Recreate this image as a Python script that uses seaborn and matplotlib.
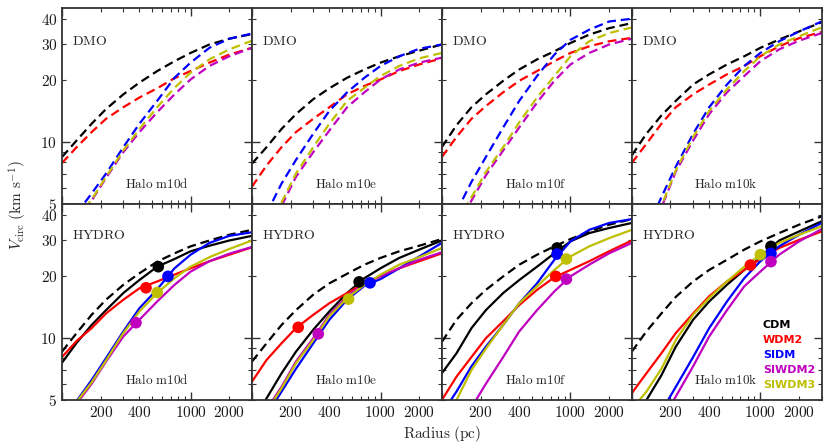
import numpy as np
import matplotlib
matplotlib.use('Agg')
import matplotlib.pyplot as plt
import matplotlib.ticker as mticker
from matplotlib.lines import Line2D
import seaborn as sns

nan = np.nan

radius = [100, 130, 170, 220, 300, 400, 550, 750, 1000, 1400, 2000, 3000]
models = ['CDM', 'WDM2', 'SIDM', 'SIWDM2', 'SIWDM3']
halos = ['m10d', 'm10e', 'm10f', 'm10k']

# ---- Halo m10d ----
m10d_dmo = {
    'CDM':    [8.47, 10.2, 12.3, 14.5, 17.1, 19.5, 22.2, 24.8, 27.2, 29.9, 31.9, 33.6],
    'WDM2':   [7.92, 9.46, 11.2, 13.0, 14.8, 16.5, 18.3, 20.5, 22.2, 24.4, 26.7, 28.8],
    'SIDM':   [nan, 4.5, 5.63, 7.03, 9.46, 12.3, 15.9, 20.6, 24.4, 28.8, 31.9, 33.8],
    'SIWDM2': [nan, 4.1, 5.2, 6.7, 8.95, 11.2, 14.0, 17.1, 20.2, 23.5, 26.2, 28.8],
    'SIWDM3': [nan, 4.2, 5.26, 6.78, 9.12, 11.6, 14.8, 18.4, 21.8, 25.3, 28.3, 31.2],
}
m10d_hydro_cdm_dmo = [8.6, 10.6, 13.0, 15.4, 18.2, 20.7, 23.6, 25.9, 28.0, 29.9, 31.9, 33.7]
m10d_hydro = {
    'CDM':    [7.6, 9.5, 11.6, 13.7, 16.6, 19.2, 22.3, 24.3, 26.5, 28.2, 29.9, 31.5],
    'WDM2':   [8.1, 9.7, 11.2, 13.2, 15.4, 17.5, 18.9, 20.4, 21.9, 23.7, 25.5, 27.7],
    'SIDM':   [nan, 4.95, 6.26, 8.0, 10.8, 14.0, 17.3, 21.9, 25.5, 29.1, 31.5, 32.8],
    'SIWDM2': [nan, 4.8, 6.0, 7.7, 10.2, 12.3, 15.1, 18.2, 21.1, 23.7, 25.8, 27.8],
    'SIWDM3': [nan, 4.9, 6.1, 7.8, 10.6, 13.5, 16.6, 19.6, 22.3, 24.8, 27.2, 29.9],
}
m10d_dot_r = [561, 450, 667, 376, 550]
m10d_dot_v = [22.3, 17.6, 20.0, 11.9, 16.7]

# ---- Halo m10e ----
m10e_dmo = {
    'CDM':    [7.86, 9.46, 11.6, 13.7, 16.2, 18.3, 20.6, 22.6, 24.4, 26.2, 27.9, 29.9],
    'WDM2':   [6.07, 7.71, 9.46, 11.2, 13.0, 14.8, 17.1, 18.8, 20.2, 22.2, 23.9, 25.6],
    'SIDM':   [nan, 4.5, 6.29, 8.2, 11.0, 14.2, 17.5, 20.6, 23.5, 26.2, 28.5, 29.9],
    'SIWDM2': [nan, 3.8, 4.9, 6.78, 8.95, 11.4, 14.8, 17.5, 20.2, 22.6, 24.4, 25.8],
    'SIWDM3': [nan, 3.9, 5.1, 7.03, 9.46, 12.3, 15.9, 18.4, 21.0, 23.5, 25.6, 27.2],
}
m10e_hydro_cdm_dmo = [7.69, 9.45, 11.6, 13.7, 16.3, 18.5, 20.6, 22.8, 24.6, 26.5, 28.2, 30.4]
m10e_hydro = {
    'CDM':    [3.9, 5.1, 6.75, 8.6, 11.0, 13.5, 16.6, 19.6, 21.9, 24.6, 27.0, 29.9],
    'WDM2':   [6.14, 7.84, 9.45, 11.2, 13.0, 14.8, 16.6, 18.5, 20.0, 21.9, 23.7, 25.9],
    'SIDM':   [nan, 4.2, 5.5, 7.1, 9.45, 12.3, 15.4, 18.0, 19.4, 21.9, 25.0, 29.1],
    'SIWDM2': [nan, 4.5, 5.8, 7.7, 10.0, 13.0, 16.0, 18.5, 20.1, 21.9, 24.1, 26.2],
    'SIWDM3': [nan, 4.4, 5.7, 7.55, 9.8, 12.8, 15.7, 18.2, 20.4, 22.8, 24.8, 27.5],
}
m10e_dot_r = [682, 229, 829, 328, 564]
m10e_dot_v = [18.8, 11.3, 18.6, 10.5, 15.5]

# ---- Halo m10f ----
m10f_dmo = {
    'CDM':    [9.46, 12.1, 14.8, 17.1, 19.9, 22.6, 25.3, 27.7, 30.4, 33.4, 35.9, 38.0],
    'WDM2':   [8.47, 10.6, 13.0, 15.0, 17.5, 19.9, 22.2, 24.8, 27.2, 29.3, 31.0, 32.2],
    'SIDM':   [nan, 4.6, 6.41, 8.47, 11.8, 15.9, 21.0, 26.7, 31.5, 35.3, 38.7, 39.9],
    'SIWDM2': [nan, 3.9, 5.2, 6.9, 9.12, 11.8, 15.6, 19.9, 23.9, 27.2, 29.9, 31.9],
    'SIWDM3': [nan, 4.1, 5.4, 7.16, 9.46, 12.5, 16.5, 21.0, 26.2, 31.0, 34.0, 36.2],
}
m10f_hydro_cdm_dmo = [9.6, 12.3, 14.8, 17.2, 20.0, 22.8, 25.5, 28.0, 30.4, 33.1, 35.7, 38.0]
m10f_hydro = {
    'CDM':    [6.75, 8.45, 11.2, 13.7, 16.6, 19.2, 22.3, 25.9, 29.6, 32.5, 34.4, 36.4],
    'WDM2':   [5.0, 6.5, 8.1, 10.0, 12.1, 14.5, 17.2, 19.8, 21.5, 23.7, 26.5, 29.9],
    'SIDM':   [4.3, 5.5, 7.3, 9.1, 11.6, 14.8, 18.5, 24.1, 29.6, 33.7, 36.4, 38.0],
    'SIWDM2': [nan, nan, 4.6, 6.0, 8.1, 10.8, 13.7, 16.9, 20.0, 22.8, 25.9, 29.1],
    'SIWDM3': [nan, 5.0, 7.0, 8.9, 11.6, 14.8, 17.9, 21.5, 25.0, 28.0, 30.7, 33.7],
}
m10f_dot_r = [787, 769, 787, 930, 930]
m10f_dot_v = [27.5, 20.0, 25.7, 19.4, 24.3]

# ---- Halo m10k ----
m10k_dmo = {
    'CDM':    [8.62, 11.0, 13.5, 15.9, 19.1, 21.4, 23.9, 26.2, 28.8, 31.6, 34.6, 38.4],
    'WDM2':   [7.92, 9.82, 12.3, 14.8, 17.1, 19.1, 21.4, 23.5, 26.2, 29.3, 32.1, 34.4],
    'SIDM':   [nan, 3.7, 5.4, 7.6, 11.0, 14.8, 19.1, 23.5, 27.2, 31.0, 34.6, 38.7],
    'SIWDM2': [nan, 3.3, 4.8, 7.2, 10.2, 13.7, 17.5, 21.0, 24.8, 28.3, 31.2, 34.0],
    'SIWDM3': [nan, 3.4, 4.9, 7.3, 10.6, 14.2, 18.1, 22.2, 26.2, 29.9, 32.8, 36.2],
}
m10k_hydro_cdm_dmo = [8.6, 10.8, 13.2, 15.9, 18.9, 21.5, 24.1, 27.0, 29.6, 32.5, 35.7, 39.2]
m10k_hydro = {
    'CDM':    [nan, 5.0, 6.6, 9.1, 12.3, 15.1, 18.2, 21.5, 24.6, 29.9, 33.1, 37.1],
    'WDM2':   [5.4, 6.75, 8.45, 10.6, 13.2, 16.0, 18.9, 21.5, 24.3, 27.5, 30.1, 33.1],
    'SIDM':   [nan, nan, 4.4, 5.8, 8.1, 11.2, 15.1, 19.6, 23.7, 28.0, 31.9, 36.4],
    'SIWDM2': [nan, nan, 4.0, 5.2, 7.3, 10.2, 13.7, 17.9, 21.1, 25.5, 29.6, 34.0],
    'SIWDM3': [4.5, 5.5, 7.1, 9.8, 13.0, 15.7, 18.9, 22.3, 25.5, 29.1, 31.9, 35.1],
}
m10k_dot_r = [1209, 837, 1209, 1209, 1000]
m10k_dot_v = [28.0, 22.7, 25.9, 23.6, 25.5]

dmo_sets = [m10d_dmo, m10e_dmo, m10f_dmo, m10k_dmo]
hydro_sets = [m10d_hydro, m10e_hydro, m10f_hydro, m10k_hydro]
hydro_ref = [m10d_hydro_cdm_dmo, m10e_hydro_cdm_dmo, m10f_hydro_cdm_dmo, m10k_hydro_cdm_dmo]
dot_r = [m10d_dot_r, m10e_dot_r, m10f_dot_r, m10k_dot_r]
dot_v = [m10d_dot_v, m10e_dot_v, m10f_dot_v, m10k_dot_v]

colors = {'CDM': '#000000', 'WDM2': '#ff0000', 'SIDM': '#0000ff',
          'SIWDM2': '#bf00bf', 'SIWDM3': '#bfbf00'}

sns.set_theme(style='ticks')
plt.rcParams['mathtext.fontset'] = 'cm'
plt.rcParams['font.family'] = ['DejaVu Sans']
plt.rcParams['axes.edgecolor'] = '0.2'
plt.rcParams['axes.linewidth'] = 1.3

dash = (0, (4, 2.2))

fig, axes = plt.subplots(2, 4, figsize=(8.3, 4.46), dpi=100, sharex=True, sharey=True)
fig.subplots_adjust(left=0.0747, right=0.990, top=0.982, bottom=0.103, wspace=0, hspace=0)

for i, halo in enumerate(halos):
    ax_top = axes[0, i]
    ax_bot = axes[1, i]

    # dark matter only runs, dashed
    for m in models:
        sns.lineplot(x=radius, y=dmo_sets[i][m], ax=ax_top, color=colors[m],
                     lw=1.6, linestyle=dash)

    # hydro runs: CDM-DMO reference dashed, all models solid
    sns.lineplot(x=radius, y=hydro_ref[i], ax=ax_bot, color='#000000', lw=1.6, linestyle=dash)
    for m in models:
        sns.lineplot(x=radius, y=hydro_sets[i][m], ax=ax_bot, color=colors[m], lw=1.6)
    sns.scatterplot(x=dot_r[i], y=dot_v[i], ax=ax_bot, hue=models,
                    palette=[colors[m] for m in models], s=70, edgecolor='none',
                    legend=False, zorder=5)

    ax_top.text(0.055, 0.83, r'$\mathrm{DMO}$', transform=ax_top.transAxes,
                fontsize=10, va='center')
    ax_bot.text(0.055, 0.84, r'$\mathrm{HYDRO}$', transform=ax_bot.transAxes,
                fontsize=10, va='center')
    for ax in (ax_top, ax_bot):
        ax.text(0.33, 0.10, r'$\mathrm{Halo\ %s}$' % halo, transform=ax.transAxes,
                fontsize=9.5, va='center')

for ax in axes.flat:
    ax.set_xscale('log')
    ax.set_yscale('log')
    ax.set_xlim(100, 3000)
    ax.set_ylim(5, 45)
    ax.tick_params(which='both', direction='in', top=True, right=True,
                   labelsize=11, colors='0.2', labelcolor='k')
    ax.tick_params(which='major', length=6, width=1)
    ax.tick_params(which='minor', length=3, width=0.8)

ax0 = axes[0, 0]
ax0.xaxis.set_major_locator(mticker.FixedLocator([100, 1000]))
ax0.xaxis.set_minor_locator(mticker.FixedLocator([200, 300, 400, 500, 600, 700, 800, 900, 2000, 3000]))
ax0.xaxis.set_major_formatter(mticker.FuncFormatter(
    lambda v, p: r'$%d$' % v if v in (1000,) else ''))
ax0.xaxis.set_minor_formatter(mticker.FuncFormatter(
    lambda v, p: r'$%d$' % v if round(v) in (200, 400, 2000) else ''))
ax0.yaxis.set_major_locator(mticker.FixedLocator([10]))
ax0.yaxis.set_minor_locator(mticker.FixedLocator([5, 6, 7, 8, 9, 20, 30, 40]))
ax0.yaxis.set_major_formatter(mticker.FuncFormatter(lambda v, p: r'$%d$' % v))
ax0.yaxis.set_minor_formatter(mticker.FuncFormatter(
    lambda v, p: r'$%d$' % v if round(v) in (5, 20, 30, 40) else ''))

for ax in axes[0, :]:
    ax.tick_params(which='both', labelbottom=False)
for ax in axes[:, 1:].flat:
    ax.tick_params(which='both', labelleft=False)

handles = [Line2D([], [], color=colors[m], lw=0) for m in models]
axes[1, 3].legend(handles, models, loc='lower left', bbox_to_anchor=(0.69, 0.05),
                  handlelength=0, handletextpad=0, frameon=False, borderpad=0,
                  borderaxespad=0, labelspacing=0.45,
                  labelcolor=[colors[m] for m in models],
                  prop={'weight': 'bold', 'size': 8})

fig.text(0.533, 0.028, r'$\mathrm{Radius\ (pc)}$', ha='center', va='center', fontsize=11)
fig.text(0.022, 0.54, r'$V_{\rm circ}\ ({\rm km\ s^{-1}})$', ha='center', va='center',
         rotation=90, fontsize=11)

fig.savefig('out.png', dpi=100)
